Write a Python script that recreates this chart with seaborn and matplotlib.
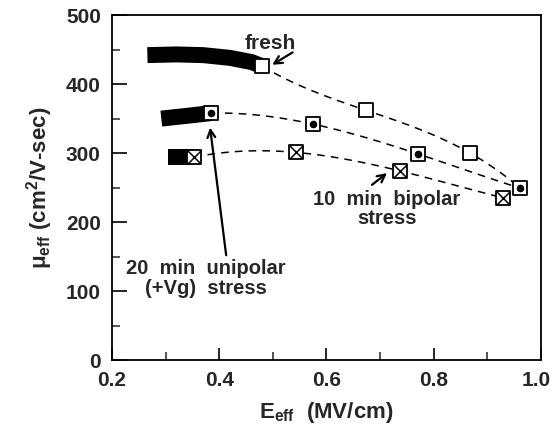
import numpy as np
import pandas as pd
import matplotlib
matplotlib.use("Agg")
import matplotlib.pyplot as plt
import matplotlib.transforms as mtransforms
from matplotlib.ticker import MultipleLocator
import seaborn as sns

# ---------------- data ----------------
# dense measured curves (thick bands)
fresh_band_x = [0.266, 0.32, 0.37, 0.42, 0.46, 0.48]
fresh_band_y = [442, 443, 442, 438, 432, 426]
uni_band_x = [0.292, 0.34, 0.385]
uni_band_y = [350, 354, 358]
bi_band_x = [0.305, 0.33, 0.353]
bi_band_y = [294, 294, 294]

# discrete points
fresh_x = [0.48, 0.674, 0.868]
fresh_y = [426, 362, 300]
uni_x = [0.385, 0.575, 0.770, 0.962]
uni_y = [358, 342, 299, 249]
bi_x = [0.353, 0.543, 0.738, 0.930]
bi_y = [294, 301, 274, 235]

# dashed guide for fresh ends at the last unipolar point
fresh_line_x = fresh_x + [uni_x[-1]]
fresh_line_y = fresh_y + [uni_y[-1]]

x_ticks = [0.2, 0.4, 0.6, 0.8, 1.0]
x_ticklabels = ["0.2", "0.4", "0.6", "0.8", "1.0"]
y_ticks = [0, 100, 200, 300, 400, 500]

# ---------------- style ----------------
sns.set_style("ticks")
plt.rcParams["font.family"] = ["Liberation Sans", "DejaVu Sans"]
plt.rcParams["font.weight"] = "bold"
plt.rcParams["mathtext.fontset"] = "custom"
plt.rcParams["mathtext.rm"] = "Liberation Sans:bold"
plt.rcParams["mathtext.it"] = "Liberation Sans:bold"
plt.rcParams["mathtext.bf"] = "Liberation Sans:bold"

fig = plt.figure(figsize=(5.53, 4.44), dpi=100)
ax = fig.add_axes([0.2025, 0.189, 0.7755, 0.777])

# thick measured bands
for bx, by in [(fresh_band_x, fresh_band_y), (uni_band_x, uni_band_y), (bi_band_x, bi_band_y)]:
    sns.lineplot(x=bx, y=by, ax=ax, color="black", linewidth=11.5,
                 solid_capstyle="butt", zorder=2, sort=False)

# dashed cubic guide curves
for lx, ly in [(fresh_line_x, fresh_line_y), (uni_x, uni_y), (bi_x, bi_y)]:
    sns.regplot(x=np.array(lx), y=np.array(ly), order=3, ci=None, scatter=False, ax=ax,
                truncate=True,
                line_kws=dict(color="black", linestyle=(0, (5, 4)), linewidth=1.1, zorder=1))

# markers: squares
all_sq_x = fresh_x + uni_x + bi_x
all_sq_y = fresh_y + uni_y + bi_y
sns.scatterplot(x=all_sq_x, y=all_sq_y, ax=ax, marker="s", s=105, color="white",
                edgecolor="black", linewidth=1.3, zorder=4)
# dots for unipolar
sns.scatterplot(x=uni_x, y=uni_y, ax=ax, marker="o", s=30, color="black",
                edgecolor="black", linewidth=0, zorder=5)
# crosses for bipolar
sns.scatterplot(x=bi_x, y=bi_y, ax=ax, marker="x", s=85, color="black",
                linewidth=1.1, zorder=5)

# axes
ax.set_xlim(0.2, 1.0)
ax.set_ylim(0, 500)
ax.set_xticks(x_ticks)
ax.set_xticklabels(x_ticklabels)
ax.set_yticks(y_ticks)
ax.xaxis.set_minor_locator(MultipleLocator(0.1))
ax.yaxis.set_minor_locator(MultipleLocator(50))
ax.tick_params(axis="both", which="major", direction="in", labelsize=15, width=1.2, color="black")
ax.tick_params(axis="y", which="major", length=11, pad=8)
ax.tick_params(axis="x", which="major", length=9, pad=8)
ax.tick_params(axis="both", which="minor", direction="in", length=5.5, width=1.1)
ax.tick_params(top=False, right=False, which="both")
for s in ax.spines.values():
    s.set_visible(True)
    s.set_linewidth(1.3)
    s.set_color("black")

# nudge the last x tick label inward so it stays in the figure
last = ax.get_xticklabels()[-1]
last.set_transform(last.get_transform() + mtransforms.ScaledTranslation(-5 / 100, 0, fig.dpi_scale_trans))

ax.set_xlabel(r"E$_{\rm eff}$  (MV/cm)", fontsize=16, fontweight="bold", labelpad=7)
ax.set_ylabel(r"$\mu_{\rm eff}$ (cm$^{2}$/V-sec)", fontsize=16, fontweight="bold", labelpad=8)

# annotations
arrow = dict(arrowstyle="->,head_length=0.55,head_width=0.28", color="black", lw=1.6,
             shrinkA=0, shrinkB=0)
ax.text(0.495, 459, "fresh", fontsize=15, fontweight="bold", ha="center", va="center")
ax.annotate("", xy=(0.499, 428), xytext=(0.537, 446), arrowprops=arrow)

ax.text(0.713, 219, "10  min  bipolar\nstress", fontsize=14.5, fontweight="bold",
        ha="center", va="center", linespacing=1.0)
ax.annotate("", xy=(0.713, 271), xytext=(0.685, 254), arrowprops=arrow)

ax.text(0.375, 118, "20  min  unipolar\n(+Vg)  stress", fontsize=14.5, fontweight="bold",
        ha="center", va="center", linespacing=1.05)
ax.annotate("", xy=(0.383, 337), xytext=(0.413, 152), arrowprops=arrow)

fig.savefig("out.png", dpi=100)
